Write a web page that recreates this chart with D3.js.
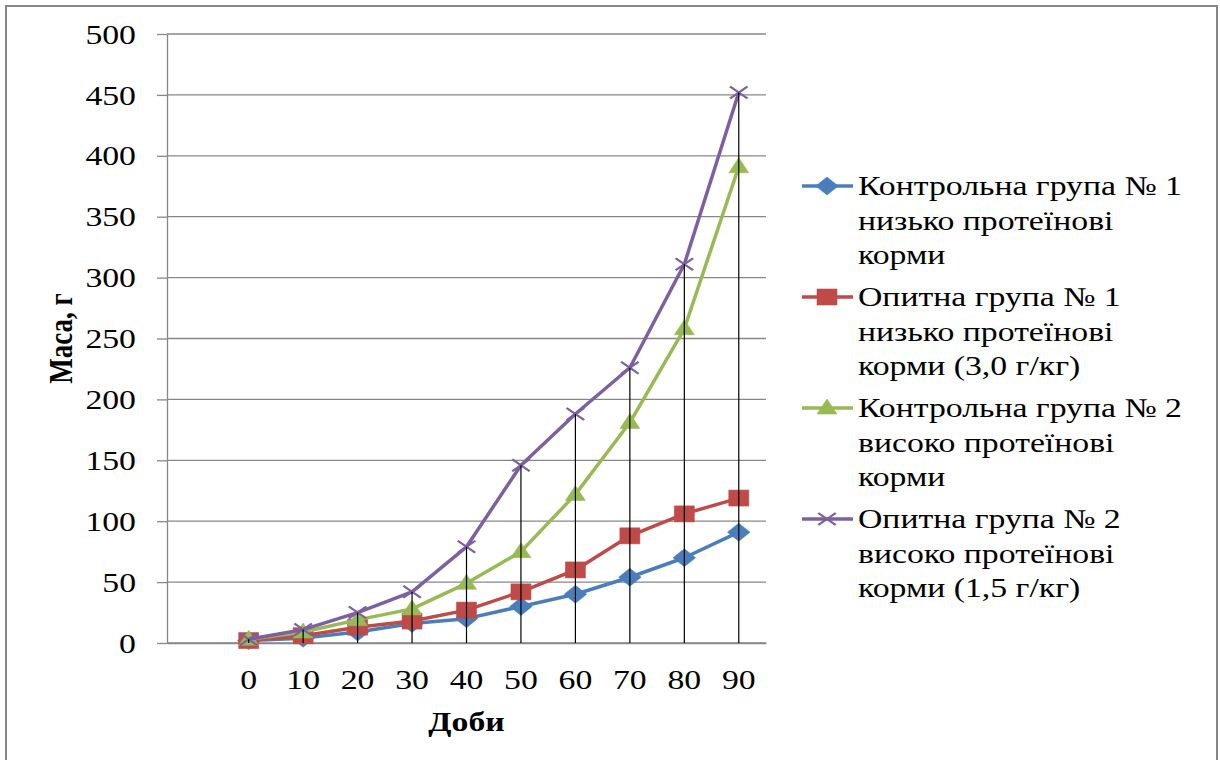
<!DOCTYPE html>
<html>
<head>
<meta charset="utf-8">
<script src="https://cdn.jsdelivr.net/npm/d3@7"></script>
<style>
body { margin: 0; background: #fff; }
text { font-family: "Liberation Serif", "Times New Roman", serif; fill: #000; }
</style>
</head>
<body>
<div id="chartdiv"></div>
<script>
// Data.
var days = ['', '0', '10', '20', '30', '40', '50', '60', '70', '80', '90'];
var control1 = [null, 2, 4, 9, 16, 20, 30, 40, 54, 70, 91];
var trial1 = [null, 2, 6, 13, 18, 27, 42, 60, 88, 106, 119];
var control2 = [null, 3, 9, 19, 28, 49, 75, 122, 181, 258, 391];
var trial2 = [null, 3, 11, 25, 42, 79, 146, 188, 226, 311, 452];
var massTicks = [0, 50, 100, 150, 200, 250, 300, 350, 400, 450, 500];
var seriesNames = [
    ['Контрольна група № 1', 'низько протеїнові', 'корми'],
    ['Опитна група № 1', 'низько протеїнові', 'корми (3,0 г/кг)'],
    ['Контрольна група № 2', 'високо протеїнові', 'корми'],
    ['Опитна група № 2', 'високо протеїнові', 'корми (1,5 г/кг)']
];
var yTitle = 'Маса, г';
var xTitle = 'Доби';

var chart = {};
// picture is stretched sideways, so text gets the same stretch
chart.sx = 1.25;

chart.markers = [
    { path: 'M0,-9L9,0L0,9L-9,0Z', color: '#4a7ebb', fill: true },
    { path: 'M-8,-8L8,-8L8,8L-8,8Z', color: '#be4b48', fill: true },
    { path: 'M0,-9L8,6L-8,6Z', color: '#98b954', fill: true },
    { path: 'M-7,-6L7,6M-7,6L7,-6', color: '#7d60a0', fill: false }
];

chart.stext = function(g, x, y, str, anchor, bold) {
    return g.append('text')
        .attr('transform', 'translate(' + x + ',' + y + ') scale(' + chart.sx + ',1)')
        .attr('text-anchor', anchor)
        .attr('font-size', 27)
        .attr('font-weight', bold ? 'bold' : 'normal')
        .text(str);
}

chart.marker = function(g, x, y, i) {
    var m = chart.markers[i];
    g.append('path')
        .attr('d', m.path)
        .attr('transform', 'translate(' + x + ',' + y + ') scale(' + chart.sx + ',1)')
        .attr('fill', m.fill ? m.color : 'none')
        .attr('stroke', m.color)
        .attr('stroke-width', m.fill ? 0.5 : 2);
}

chart.draw = function() {
    var series = [control1, trial1, control2, trial2];
    var left = 167, right = 766, top = 34, bottom = 643;

    var svg = d3.select('#chartdiv')
        .append('svg')
        .attr('width', 1220)
        .attr('height', 760);

    svg.append('rect')
        .attr('x', 6).attr('y', 6)
        .attr('width', 1211).attr('height', 770)
        .attr('fill', '#fff')
        .attr('stroke', '#868686')
        .attr('stroke-width', 2);

    var xScale = d3.scaleBand()
        .domain(days)
        .range([left, right]);
    var xc = function(d) { return xScale(d) + xScale.bandwidth() / 2; };

    var yScale = d3.scaleLinear()
        .domain([0, 500])
        .range([bottom, top]);

    // gridlines
    svg.append('g').selectAll('line')
        .data(massTicks)
        .enter().append('line')
        .attr('x1', left).attr('x2', right)
        .attr('y1', d => yScale(d)).attr('y2', d => yScale(d))
        .attr('stroke', '#878787')
        .attr('stroke-width', 1.3);

    var yAxis = svg.append('g')
        .attr('transform', 'translate(' + left + ',0)')
        .call(d3.axisLeft(yScale).tickValues(massTicks).tickSize(10).tickSizeOuter(0));
    yAxis.select('.domain').attr('stroke', '#878787').attr('stroke-width', 1.3);
    yAxis.selectAll('.tick line').attr('stroke', '#878787').attr('stroke-width', 1.3);
    yAxis.selectAll('.tick text')
        .attr('x', 0)
        .attr('dy', '0.34em')
        .attr('font-size', 27)
        .attr('font-family', '"Liberation Serif", serif')
        .attr('transform', 'translate(-31,0) scale(' + chart.sx + ',1)');

    var xAxis = svg.append('g')
        .attr('transform', 'translate(0,' + bottom + ')')
        .call(d3.axisBottom(xScale).tickSize(0).tickSizeOuter(0));
    xAxis.select('.domain').attr('stroke', '#878787').attr('stroke-width', 1.3);
    xAxis.selectAll('.tick text')
        .attr('y', 0)
        .attr('dy', 0)
        .attr('font-size', 27)
        .attr('font-family', '"Liberation Serif", serif')
        .attr('transform', 'translate(0,46) scale(' + chart.sx + ',1)');

    // lines and markers
    var line = d3.line()
        .defined(d => d.v != null)
        .x(d => xc(d.day))
        .y(d => yScale(d.v));

    var plot = svg.append('g');
    series.forEach(function(s, i) {
        var pts = days.map((day, j) => ({ day: day, v: s[j] }));
        plot.append('path')
            .datum(pts)
            .attr('d', line)
            .attr('fill', 'none')
            .attr('stroke', chart.markers[i].color)
            .attr('stroke-width', 3.5)
            .attr('stroke-linejoin', 'round');
        pts.filter(d => d.v != null).forEach(function(d) {
            chart.marker(plot, xc(d.day), yScale(d.v), i);
        });
    });

    // drop lines
    var drops = days.map(function(day, j) {
        return { day: day, v: d3.max(series, s => s[j]) };
    }).filter(d => d.v != null);
    svg.append('g').selectAll('line')
        .data(drops)
        .enter().append('line')
        .attr('x1', d => xc(d.day)).attr('x2', d => xc(d.day))
        .attr('y1', d => yScale(d.v)).attr('y2', bottom)
        .attr('stroke', '#000')
        .attr('stroke-width', 1.2);

    // axis titles
    chart.stext(svg, (left + right) / 2, 731, xTitle, 'middle', true);
    svg.append('text')
        .attr('transform', 'translate(72,' + ((top + bottom) / 2) + ') scale(' + chart.sx + ',1) rotate(-90)')
        .attr('text-anchor', 'middle')
        .attr('font-size', 27)
        .attr('font-weight', 'bold')
        .text(yTitle);

    // legend
    var legend = svg.append('g');
    seriesNames.forEach(function(lines, i) {
        var cy = 186 + i * 111;
        legend.append('line')
            .attr('x1', 802).attr('x2', 853)
            .attr('y1', cy).attr('y2', cy)
            .attr('stroke', chart.markers[i].color)
            .attr('stroke-width', 3.5);
        chart.marker(legend, 827, cy, i);
        lines.forEach(function(str, k) {
            chart.stext(legend, 858, cy + 9 + k * 34.5, str, 'start', false);
        });
    });
}

chart.draw();
</script>
</body>
</html>
